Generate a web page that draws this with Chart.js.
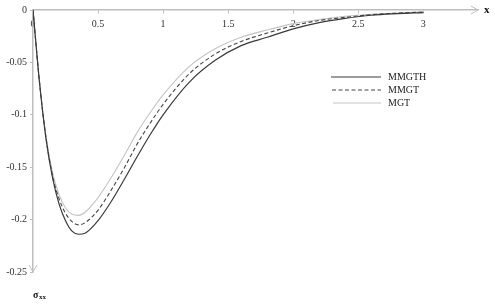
<!DOCTYPE html>
<html>
<head>
<meta charset="utf-8">
<script src="https://cdn.jsdelivr.net/npm/chart.js@4.4.1/dist/chart.umd.min.js"></script>
<style>
  html, body { margin: 0; padding: 0; background: #fff; }
  #wrap { position: relative; width: 495px; height: 306px; }
</style>
</head>
<body>
<div id="wrap"><canvas id="stressChart"></canvas></div>
<script>
  // Valeurs
  var xValues = [0, 0.05, 0.1, 0.15, 0.2, 0.25, 0.3, 0.35, 0.4, 0.5, 0.6, 0.7, 0.8, 0.9, 1.0,
    1.2, 1.4, 1.6, 1.8, 2.0, 2.2, 2.4, 2.6, 2.8, 3.0];
  var mmgth = [0, -0.069, -0.123, -0.160, -0.185, -0.201, -0.211, -0.214, -0.213, -0.201, -0.183,
    -0.162, -0.140, -0.119, -0.100, -0.069, -0.048, -0.034, -0.026, -0.018, -0.012, -0.008, -0.005, -0.0035, -0.0025];
  var mmgt = [0, -0.069, -0.122, -0.158, -0.180, -0.194, -0.202, -0.205, -0.203, -0.191, -0.172,
    -0.151, -0.128, -0.108, -0.090, -0.061, -0.042, -0.030, -0.022, -0.015, -0.010, -0.007, -0.0045, -0.003, -0.002];
  var mgt = [0, -0.069, -0.121, -0.155, -0.176, -0.189, -0.195, -0.196, -0.193, -0.179, -0.160,
    -0.139, -0.117, -0.098, -0.081, -0.054, -0.037, -0.026, -0.019, -0.013, -0.009, -0.006, -0.004, -0.0028, -0.002];
  var seriesNames = ['MMGTH', 'MMGT', 'MGT'];
  var xTickMax = 3;

  function toPoints(ys) {
    return xValues.map(function (x, i) { return { x: x, y: ys[i] }; });
  }

  function fmt(v) {
    return String(+Number(v).toFixed(2));
  }

  Chart.defaults.font.family = '"Liberation Serif", "Times New Roman", serif';
  Chart.defaults.font.size = 10;
  Chart.defaults.color = '#333';

  var axisGray = '#bdbdbd';

  // Flèches des axes, titres et légende
  var decorPlugin = {
    id: 'decor',
    afterDraw: function (chart) {
      var c = chart.ctx;
      var xs = chart.scales.x, ys = chart.scales.y;
      var y0 = ys.getPixelForValue(0);
      var x0 = xs.getPixelForValue(0);
      var xEnd = chart.chartArea.right;
      var yEnd = chart.chartArea.bottom;
      c.save();
      c.strokeStyle = axisGray;
      c.lineWidth = 1;
      c.beginPath();
      c.moveTo(xEnd - 7, y0 - 4); c.lineTo(xEnd, y0); c.lineTo(xEnd - 7, y0 + 4);
      c.moveTo(x0 - 4, yEnd - 7); c.lineTo(x0, yEnd); c.lineTo(x0 + 4, yEnd - 7);
      c.stroke();

      c.fillStyle = '#111';
      c.font = 'bold 11px "Liberation Serif", serif';
      c.textBaseline = 'middle';
      c.textAlign = 'left';
      c.fillText('x', xEnd + 6, y0);
      c.font = 'bold 10px "Liberation Serif", serif';
      c.fillText('σ', x0, yEnd + 23);
      c.font = 'bold 7px "Liberation Serif", serif';
      c.fillText('xx', x0 + 6, yEnd + 25);

      // légende
      var lx = 331, ly = 77, gap = 13;
      chart.data.datasets.forEach(function (ds, i) {
        var yy = ly + i * gap;
        c.strokeStyle = ds.borderColor;
        c.lineWidth = ds.borderWidth;
        c.setLineDash(ds.borderDash || []);
        c.beginPath();
        c.moveTo(lx + i, yy); c.lineTo(lx + 50, yy);
        c.stroke();
        c.setLineDash([]);
        c.fillStyle = '#222';
        c.font = '10px "Liberation Serif", serif';
        c.fillText(ds.label, lx + 57, yy);
      });
      c.restore();
    }
  };

  var ctx = document.getElementById('stressChart');
  new Chart(ctx, {
    type: 'line',
    data: {
      datasets: [{
        label: seriesNames[0],
        data: toPoints(mmgth),
        borderColor: '#3a3a3a',
        borderWidth: 1.2
      }, {
        label: seriesNames[1],
        data: toPoints(mmgt),
        borderColor: '#444',
        borderWidth: 1.1,
        borderDash: [4, 2.5]
      }, {
        label: seriesNames[2],
        data: toPoints(mgt),
        borderColor: '#c4c4c4',
        borderWidth: 1.1
      }]
    },
    options: {
      responsive: true,
      maintainAspectRatio: false,
      animation: false,
      layout: { padding: { left: 0, top: 10, right: 17, bottom: 34 } },
      plugins: {
        legend: { display: false },
        tooltip: { enabled: false }
      },
      elements: { point: { radius: 0 }, line: { cubicInterpolationMode: 'monotone' } },
      scales: {
        x: {
          type: 'linear',
          position: { y: 0 },
          min: 0,
          max: 3.42,
          afterBuildTicks: function (scale) {
            scale.ticks = scale.ticks.filter(function (t) { return t.value <= xTickMax + 1e-9; });
          },
          ticks: { stepSize: 0.5, padding: 5, maxRotation: 0, autoSkip: false, callback: fmt },
          grid: { drawOnChartArea: false, tickLength: 3, color: axisGray },
          border: { color: axisGray, width: 1.5 }
        },
        y: {
          type: 'linear',
          position: 'left',
          min: -0.25,
          max: 0,
          afterFit: function (scale) { scale.width = 33; },
          ticks: { stepSize: 0.05, padding: 3, callback: fmt },
          grid: { drawOnChartArea: false, tickLength: 3, color: axisGray },
          border: { color: axisGray, width: 1.5 }
        }
      }
    },
    plugins: [decorPlugin]
  });
</script>
</body>
</html>
